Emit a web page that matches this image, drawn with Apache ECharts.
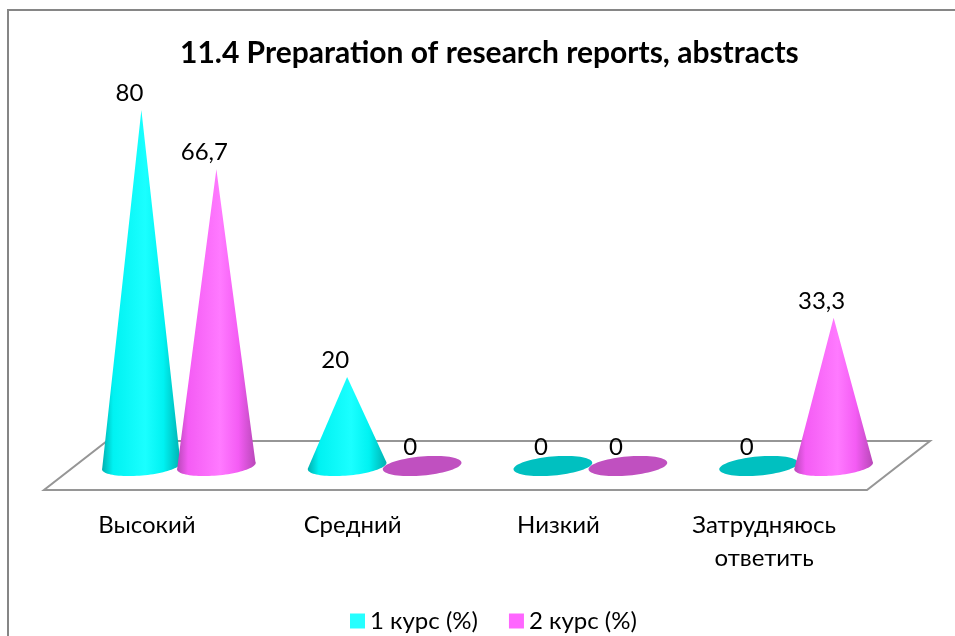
<!DOCTYPE html>
<html><head><meta charset="utf-8">
<style>html,body{margin:0;padding:0;background:#fff;overflow:hidden}#c{width:955px;height:636px}</style>
<script src="https://cdn.jsdelivr.net/npm/echarts@6/dist/echarts.min.js"></script>
</head><body><div id="c"></div>
<script>
const titleText = '11.4 Preparation of research reports, abstracts';
const categories = ['Высокий', 'Средний', 'Низкий', 'Затрудняюсь\nответить'];
const course1Name = '1 курс (%)';
const course2Name = '2 курс (%)';
const course1 = [80, 20, 0, 0];
const course2 = [66.7, 0, 0, 33.3];

const FONT = 'Lato, "Noto Sans", sans-serif';
const DEPTH_X = 63, DEPTH_Y = 49;     // full floor depth
const SHIFT_X = 32, SHIFT_Y = 24;     // cones stand mid-depth
const OFFSET = 37.5, RX = 39.5, RY = 9.5, TILT = -5 * Math.PI / 180;

function ellipsePoint(cx, cy, a) {
  const x = RX * Math.cos(a), y = RY * Math.sin(a);
  return [cx + x * Math.cos(TILT) - y * Math.sin(TILT), cy + x * Math.sin(TILT) + y * Math.cos(TILT)];
}
function gradient(edge, mid, glow) {
  return new echarts.graphic.LinearGradient(0, 0, 1, 0, [
    {offset: 0, color: edge}, {offset: 0.14, color: mid}, {offset: 0.55, color: glow},
    {offset: 0.78, color: mid}, {offset: 1, color: edge}
  ]);
}
function coneRenderer(side, colors) {
  return function (params, api) {
    const v = api.value(1);
    const p = api.coord([api.value(0), v]);
    const base = api.coord([api.value(0), 0]);
    const cx = base[0] + SHIFT_X + side * OFFSET, cy = base[1] - SHIFT_Y;
    const tipY = p[1] - SHIFT_Y;
    const pts = [];
    let shape;
    if (v > 0) {
      pts.push([cx, tipY]);
      for (let i = 0; i <= 48; i++) pts.push(ellipsePoint(cx, cy, Math.PI + 0.12 - (Math.PI + 0.24) * i / 48));
      shape = {type: 'polygon', shape: {points: pts},
        style: {fill: gradient(colors[0], colors[1], colors[2])}};
    } else {
      for (let i = 0; i < 72; i++) pts.push(ellipsePoint(cx, cy, 2 * Math.PI * i / 72));
      shape = {type: 'polygon', shape: {points: pts}, style: {fill: colors[3]}};
    }
    const label = {type: 'text', style: {
      text: String(v).replace('.', ','), x: cx - 12, y: tipY - (v > 0 ? 17 : 19),
      align: 'center', verticalAlign: 'middle', fill: '#000', font: '24px ' + FONT}};
    return {type: 'group', children: [shape, label]};
  };
}
function floorRenderer(params) {
  const g = params.coordSys, x0 = g.x, x1 = g.x + g.width, y = g.y + g.height;
  return {type: 'polygon', shape: {points: [[x0, y], [x1, y], [x1 + DEPTH_X, y - DEPTH_Y], [x0 + DEPTH_X, y - DEPTH_Y]]},
    style: {fill: '#fff', stroke: '#969696', lineWidth: 2}};
}
const cyan = ['#00b0b0', '#00f2f2', '#1affff', '#00c0c0'];
const pink = ['#b848b8', '#f45cf4', '#ff7aff', '#c050c0'];

const chart = echarts.init(document.getElementById('c'));
chart.setOption({
  animation: false,
  backgroundColor: '#fff',
  title: {text: titleText, left: 175, top: 33,
    textStyle: {fontFamily: FONT, fontSize: 30, fontWeight: 'bold', color: '#000'}},
  legend: {left: 345, top: 604, itemWidth: 15, itemHeight: 15, itemGap: 31, icon: 'rect',
    data: [{name: course1Name, itemStyle: {color: '#26ffff'}}, {name: course2Name, itemStyle: {color: '#ff66ff'}}],
    textStyle: {fontFamily: FONT, fontSize: 24, color: '#000'}},
  grid: {left: 44, top: 134, width: 823, height: 356},
  xAxis: {type: 'category', data: categories, axisLine: {show: false}, axisTick: {show: false},
    axisLabel: {interval: 0, margin: 19, lineHeight: 33,
      fontFamily: FONT, fontSize: 24, color: '#000'}},
  yAxis: {type: 'value', min: 0, max: 80, show: false},
  graphic: [
    {type: 'polyline', silent: true, shape: {points: [[8, 636], [8, 10], [955, 10]]},
     style: {fill: 'none', stroke: '#868686', lineWidth: 2}}
  ],
  series: [
    {type: 'custom', name: '__floor', renderItem: floorRenderer, data: [[0, 0]], encode: {x: 0, y: 1}, silent: true, z: 1},
    {type: 'custom', name: course1Name, renderItem: coneRenderer(-1, cyan), encode: {x: 0, y: 1}, z: 2,
     data: course1.map((v, i) => [i, v]), itemStyle: {color: '#26ffff'}},
    {type: 'custom', name: course2Name, renderItem: coneRenderer(1, pink), encode: {x: 0, y: 1}, z: 3,
     data: course2.map((v, i) => [i, v]), itemStyle: {color: '#ff66ff'}}
  ]
});
</script></body></html>
